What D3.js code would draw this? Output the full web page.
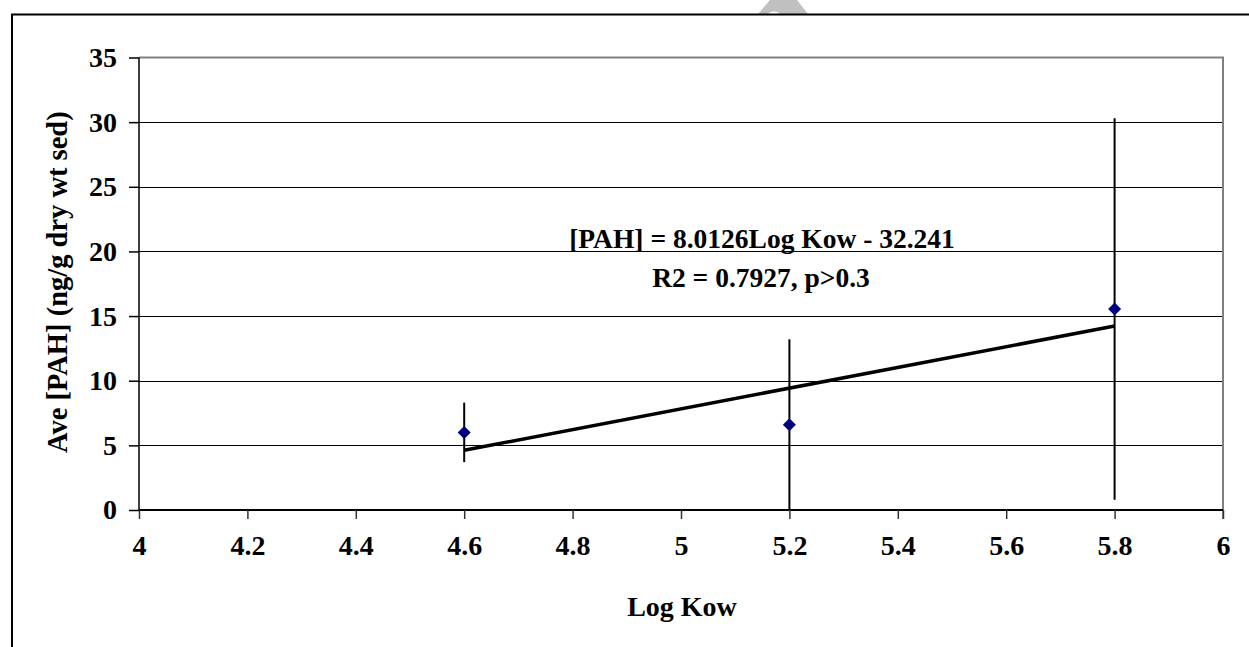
<!DOCTYPE html>
<html>
<head>
<meta charset="utf-8">
<script src="https://cdn.jsdelivr.net/npm/d3@7"></script>
<style>
  html, body { margin: 0; padding: 0; background: #fff; }
  svg { display: block; }
  text { font-family: "Liberation Serif", "Times New Roman", serif; font-weight: bold; fill: #000; }
</style>
</head>
<body>
<svg id="chart" width="1249" height="647"></svg>
<script>
// ---- data ----
const logKow = [4.6, 5.2, 5.8];
const avePAH = [6.0, 6.6, 15.55];
const errPAH = [2.3, 6.6, 14.75];
const slope = 8.0126;
const intercept = -32.241;
const xTicks = [4, 4.2, 4.4, 4.6, 4.8, 5, 5.2, 5.4, 5.6, 5.8, 6];
const yTicks = [0, 5, 10, 15, 20, 25, 30, 35];
const equationLines = ["[PAH] = 8.0126Log Kow - 32.241", "R2 = 0.7927, p>0.3"];
const xTitle = "Log Kow";
const yTitle = "Ave [PAH] (ng/g dry wt sed)";

const svg = d3.select("#chart");
const W = 1249, H = 647;
const plot = { left: 139, right: 1223, top: 57.5, bottom: 510 };

// watermark fragment at top
svg.append("polygon")
  .attr("points", "770,0 797,0 808,14 758,14")
  .attr("fill", "#c0c0c0");
svg.append("ellipse").attr("cx", 774).attr("cy", 14.5).attr("rx", 6).attr("ry", 3).attr("fill", "#fff");

// outer frame
svg.append("rect")
  .attr("x", 12).attr("y", 14.5).attr("width", W + 50).attr("height", H + 50)
  .attr("fill", "none").attr("stroke", "#000").attr("stroke-width", 2);

const x = d3.scaleLinear().domain([4, 6]).range([plot.left, plot.right]);
const y = d3.scaleLinear().domain([0, 35]).range([plot.bottom, plot.top]);

// gridlines
svg.append("g").selectAll("line")
  .data(yTicks.filter(t => t > 0 && t < 35))
  .join("line")
  .attr("x1", plot.left).attr("x2", plot.right)
  .attr("y1", d => Math.round(y(d)) + 0.5).attr("y2", d => Math.round(y(d)) + 0.5)
  .attr("stroke", "#000").attr("stroke-width", 1);

// plot border (top & right gray)
svg.append("path")
  .attr("d", `M${plot.left},${y(35)}H${plot.right}V${plot.bottom + 9}`)
  .attr("fill", "none").attr("stroke", "#808080").attr("stroke-width", 2);

// x axis
const xAxis = d3.axisBottom(x).tickValues(xTicks).tickSize(9).tickPadding(16)
  .tickFormat(d => d3.format("")(d));
const gx = svg.append("g").attr("transform", `translate(0,${plot.bottom})`).call(xAxis);
gx.select(".domain").attr("stroke", "#000").attr("stroke-width", 2)
  .attr("d", `M${plot.left},0H${plot.right}`);
gx.selectAll(".tick line").attr("stroke", "#333").attr("stroke-width", 1.5);
gx.selectAll(".tick text").attr("font-size", 28).attr("font-family", "Liberation Serif").attr("font-weight", "bold").attr("fill", "#000");

// y axis
const yAxis = d3.axisLeft(y).tickValues(yTicks).tickSize(10).tickPadding(12);
const gy = svg.append("g").attr("transform", `translate(${plot.left},0)`).call(yAxis);
gy.select(".domain").attr("stroke", "#000").attr("stroke-width", 1.5)
  .attr("d", `M0,${plot.top}V${plot.bottom}`);
gy.selectAll(".tick line").attr("stroke", "#000").attr("stroke-width", 1.5);
gy.selectAll(".tick text").attr("font-size", 28).attr("font-family", "Liberation Serif").attr("font-weight", "bold").attr("fill", "#000");

// error bars
svg.append("g").selectAll("line")
  .data(logKow.map((k, i) => ({ k, v: avePAH[i], e: errPAH[i] })))
  .join("line")
  .attr("x1", d => x(d.k)).attr("x2", d => x(d.k))
  .attr("y1", d => y(Math.min(35, d.v + d.e))).attr("y2", d => y(Math.max(0, d.v - d.e)))
  .attr("stroke", "#000").attr("stroke-width", 2);

// regression line
const xr = [d3.min(logKow), d3.max(logKow)];
svg.append("line")
  .attr("x1", x(xr[0])).attr("y1", y(slope * xr[0] + intercept))
  .attr("x2", x(xr[1])).attr("y2", y(slope * xr[1] + intercept))
  .attr("stroke", "#000").attr("stroke-width", 3.5);

// markers
svg.append("g").selectAll("path")
  .data(logKow.map((k, i) => ({ k, v: avePAH[i] })))
  .join("path")
  .attr("transform", d => `translate(${x(d.k)},${y(d.v)})`)
  .attr("d", "M0,-6.5L6.5,0L0,6.5L-6.5,0Z")
  .attr("fill", "#000080");

// equation
svg.append("text").attr("x", 762).attr("y", 248).attr("text-anchor", "middle")
  .attr("font-size", 27.5).text(equationLines[0]);
svg.append("text").attr("x", 761).attr("y", 287).attr("text-anchor", "middle")
  .attr("font-size", 27.5).text(equationLines[1]);

// axis titles
svg.append("text").attr("x", 682).attr("y", 616).attr("text-anchor", "middle")
  .attr("font-size", 28).text(xTitle);

svg.append("clipPath").attr("id", "ytclip")
  .append("rect").attr("x", 0).attr("y", 108).attr("width", 130).attr("height", 500);
svg.append("g").attr("clip-path", "url(#ytclip)")
  .append("text")
  .attr("transform", "translate(67,453) rotate(-90)")
  .attr("text-anchor", "start")
  .attr("font-size", 28.5).text(yTitle);
</script>
</body>
</html>
